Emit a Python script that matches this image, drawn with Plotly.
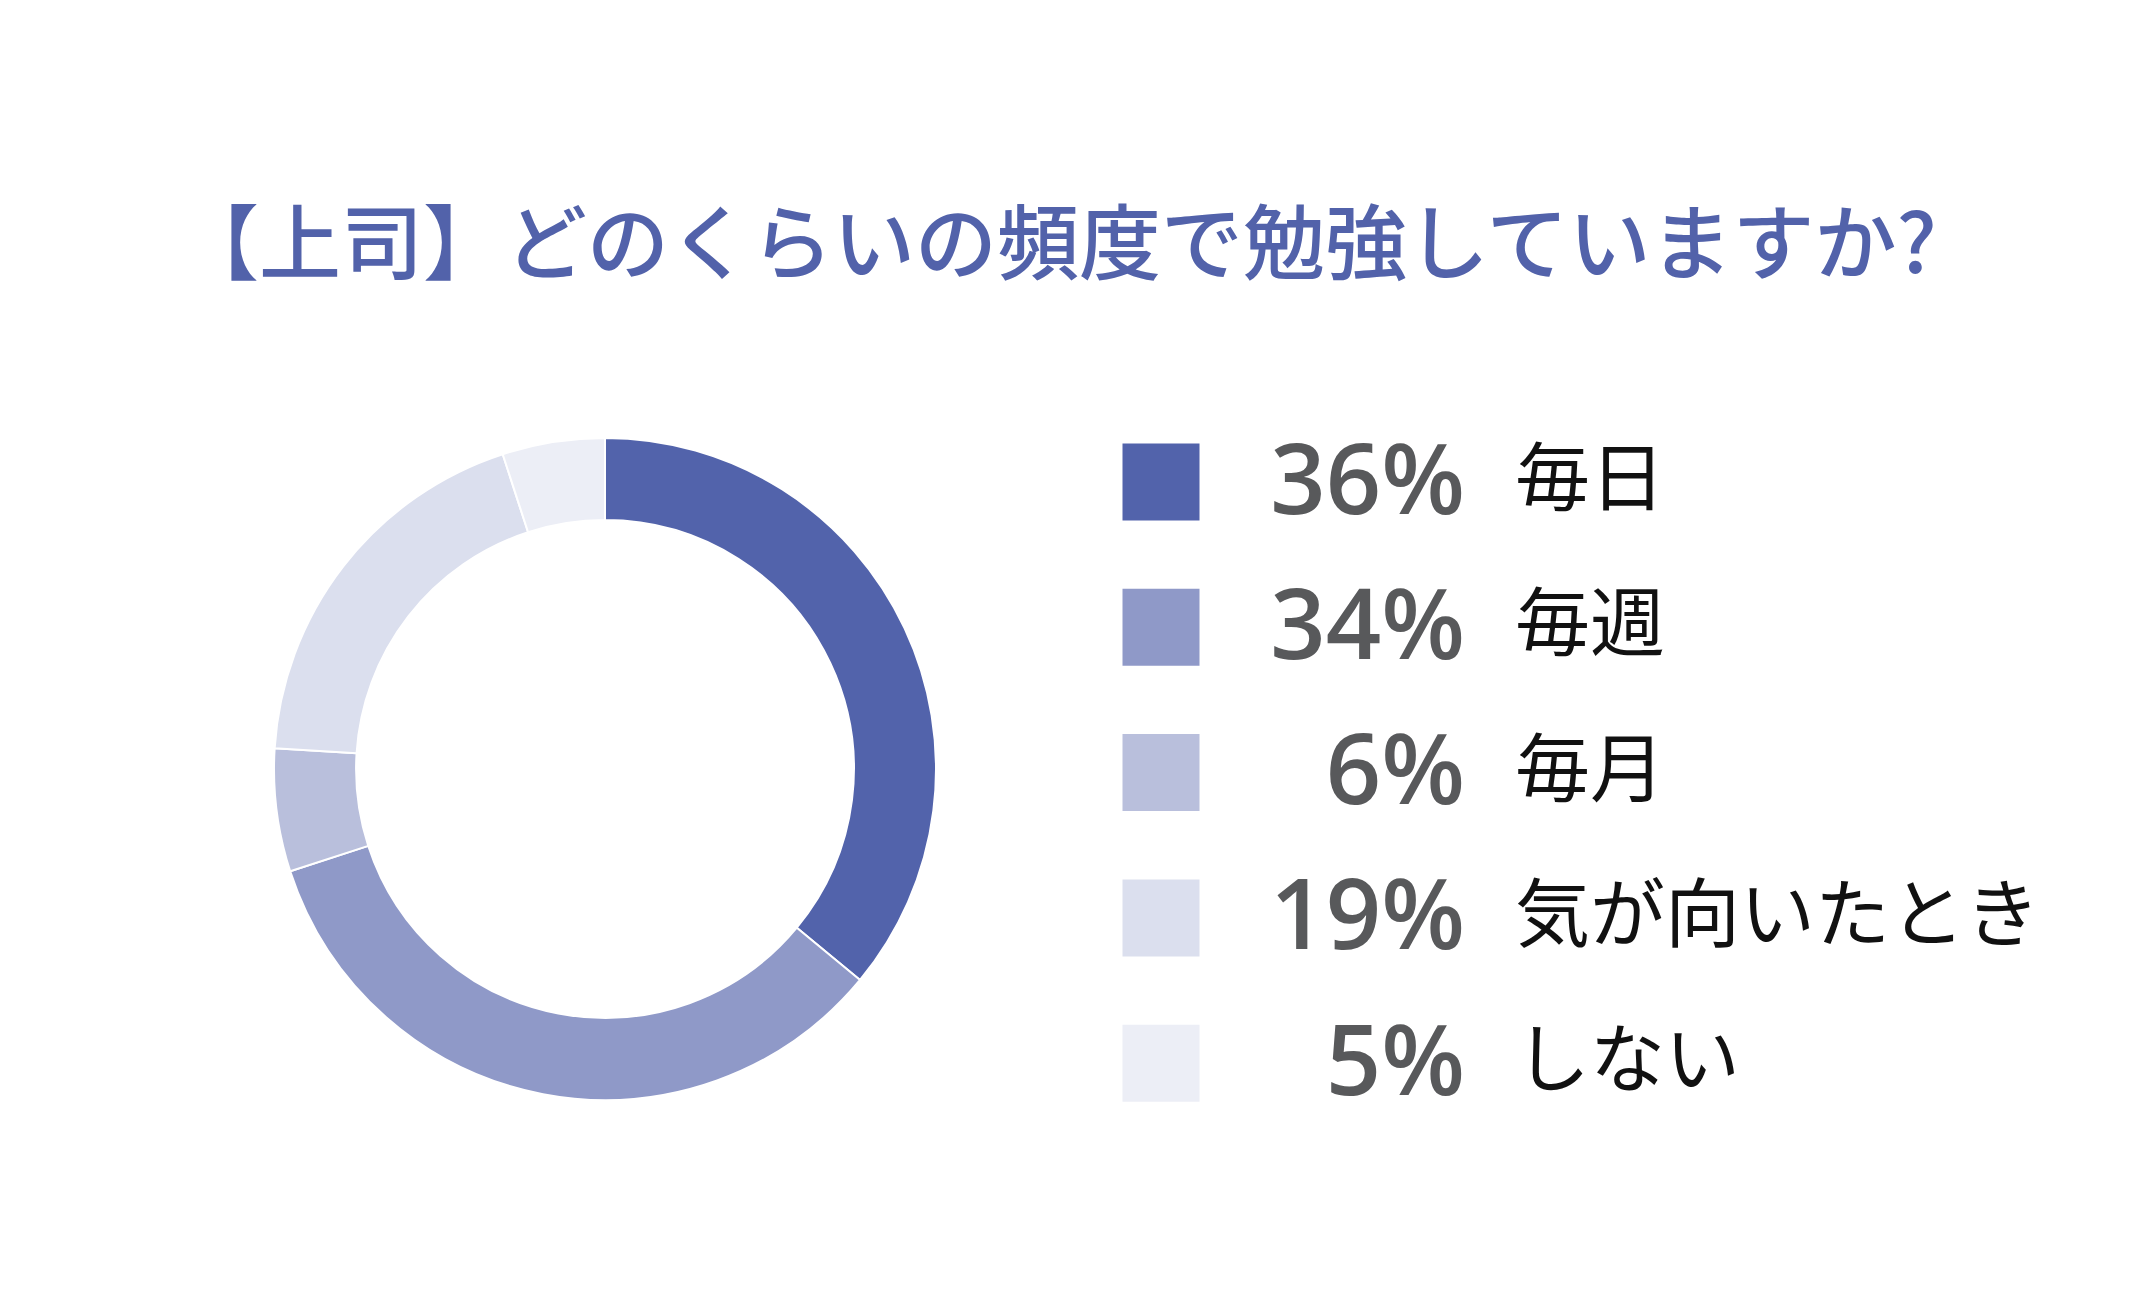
import plotly.graph_objects as go

# data
labels = ["毎日", "毎週", "毎月", "気が向いたとき", "しない"]
values = [36, 34, 6, 19, 5]
colors = ["#5263AB", "#8F99C8", "#B9BFDC", "#DBDFEE", "#ECEEF6"]
pct_text = [f"{v}%" for v in values]
title = "【上司】どのくらいの頻度で勉強していますか?"

W, H = 2150, 1309
rows = list(range(len(labels)))
dx, dy = -13, -10  # page offset correction

fig = go.Figure()

fig.add_trace(go.Pie(
    labels=labels,
    values=values,
    marker=dict(colors=colors, line=dict(color="white", width=2)),
    hole=0.752,
    sort=False,
    direction="clockwise",
    rotation=0,
    textinfo="none",
    hoverinfo="label+percent",
    showlegend=False,
    domain=dict(x=[(279 + dx) / W, (941 + dx) / W],
                y=[1 - (1102 + dy) / H, 1 - (440 + dy) / H]),
))

# legend swatches
fig.add_trace(go.Scatter(
    x=[1166 + dx] * len(rows), y=rows,
    mode="markers",
    marker=dict(symbol="square", size=77, color=colors, line=dict(width=0)),
    hoverinfo="skip", showlegend=False,
))

# percentages, right aligned
fig.add_trace(go.Scatter(
    x=[1470 + dx] * len(rows), y=[r + 0.05 for r in rows],
    mode="text", text=pct_text, textposition="middle left",
    textfont=dict(family="Open Sans", size=97, color="#58595B", weight=600),
    hoverinfo="skip", showlegend=False,
))

# category labels
fig.add_trace(go.Scatter(
    x=[1520 + dx] * len(rows), y=[r + 0.03 for r in rows],
    mode="text", text=labels, textposition="middle right",
    textfont=dict(family="Noto Sans CJK JP", size=75, color="#111111"),
    hoverinfo="skip", showlegend=False,
))

row0, step = 484 + dy, 145.3
fig.update_layout(
    width=W, height=H,
    margin=dict(l=0, r=0, t=0, b=0),
    paper_bgcolor="white", plot_bgcolor="white",
    xaxis=dict(range=[0, W], visible=False, fixedrange=True),
    yaxis=dict(range=[(H - row0) / step, -row0 / step], visible=False, fixedrange=True),
    annotations=[dict(
        text=title, xref="paper", yref="paper",
        x=(1062 + dx) / W, y=1 - (239 + dy) / H, xanchor="center", yanchor="middle",
        showarrow=False,
        font=dict(family="Noto Sans CJK JP", size=82, color="#5262AA", weight=500),
    )],
)

fig.write_html("out.html")
